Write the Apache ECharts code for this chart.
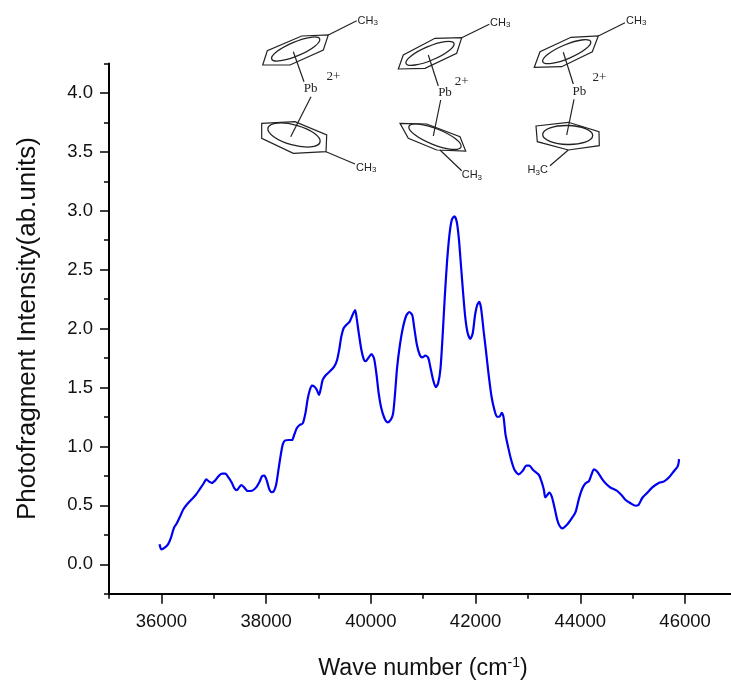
<!DOCTYPE html>
<html><head><meta charset="utf-8">
<style>html,body{margin:0;padding:0;background:#fff}#c{width:731px;height:682px}</style>
<script src="https://cdn.jsdelivr.net/npm/echarts@6/dist/echarts.min.js"></script>
</head><body><div id="c"></div>
<script>
const waveNumber = [35965,36000,36070,36130,36185,36240,36295,36355,36420,36495,36580,36655,36740,36815,36855,36905,36960,37025,37090,37155,37220,37280,37345,37395,37440,37485,37525,37580,37650,37730,37810,37875,37925,37965,38010,38055,38100,38140,38190,38240,38285,38320,38365,38430,38495,38535,38585,38640,38700,38750,38790,38830,38875,38925,38970,39010,39045,39080,39130,39210,39300,39355,39400,39435,39480,39530,39595,39650,39700,39725,39770,39820,39865,39900,39960,40010,40060,40105,40150,40200,40260,40320,40385,40425,40460,40500,40550,40610,40675,40735,40790,40830,40880,40935,40980,41040,41095,41135,41190,41240,41285,41330,41375,41410,41455,41500,41545,41595,41640,41680,41725,41765,41805,41850,41900,41945,41990,42030,42070,42105,42155,42200,42250,42305,42360,42410,42455,42500,42535,42570,42620,42680,42745,42825,42900,42970,43025,43100,43210,43260,43305,43330,43370,43405,43455,43510,43560,43605,43655,43740,43835,43910,43975,44040,44100,44165,44210,44260,44325,44420,44500,44580,44695,44785,44865,44960,45055,45110,45185,45280,45375,45505,45600,45695,45790,45855,45875,45885];
const intensity = [0.17,0.127,0.144,0.172,0.229,0.31,0.348,0.404,0.467,0.512,0.552,0.588,0.642,0.692,0.721,0.704,0.69,0.71,0.747,0.769,0.769,0.738,0.692,0.645,0.63,0.653,0.673,0.653,0.622,0.625,0.653,0.701,0.749,0.752,0.715,0.645,0.613,0.616,0.673,0.815,0.942,1.02,1.052,1.055,1.055,1.097,1.154,1.182,1.196,1.281,1.394,1.473,1.516,1.507,1.479,1.437,1.493,1.564,1.6,1.634,1.677,1.734,1.833,1.931,2.003,2.031,2.059,2.115,2.158,2.101,1.96,1.818,1.739,1.723,1.756,1.784,1.748,1.621,1.451,1.324,1.239,1.205,1.23,1.281,1.437,1.663,1.846,2.003,2.109,2.141,2.115,2.003,1.861,1.776,1.756,1.77,1.753,1.677,1.564,1.504,1.536,1.663,1.974,2.257,2.568,2.794,2.922,2.953,2.907,2.766,2.512,2.285,2.087,1.96,1.912,1.96,2.115,2.2,2.226,2.172,1.974,1.804,1.606,1.422,1.309,1.252,1.252,1.286,1.245,1.105,0.998,0.885,0.8,0.764,0.794,0.837,0.837,0.8,0.758,0.701,0.63,0.568,0.588,0.608,0.574,0.475,0.376,0.325,0.305,0.333,0.39,0.446,0.56,0.645,0.687,0.707,0.758,0.806,0.785,0.721,0.679,0.65,0.625,0.588,0.546,0.518,0.497,0.503,0.565,0.608,0.653,0.692,0.704,0.738,0.792,0.828,0.857,0.893];
const xMajorTicks = [36000,38000,40000,42000,44000,46000];
const xMinorTicks = [35000,37000,39000,41000,43000,45000];
const yMajorTicks = [0,0.5,1,1.5,2,2.5,3,3.5,4];
const yMinorTicks = [-0.25,0.25,0.75,1.25,1.75,2.25,2.75,3.25,3.75,4.25];
const xTitle = 'Wave number (cm';
const yTitle = 'Photofragment Intensity(ab.units)';

const pts = waveNumber.map((x,i)=>[x,intensity[i]]);
const sans = '"Liberation Sans", Arial, sans-serif';
const serif = '"Liberation Serif", serif';
const ink = '#111';

const g = [];
function poly(p, closed){
  g.push({type:closed?'polygon':'polyline',silent:true,shape:{points:p},style:{fill:closed?'none':null,stroke:'#222',lineWidth:1.2}});
}
function ell(cx,cy,rx,ry,rot){
  g.push({type:'ellipse',silent:true,x:cx,y:cy,rotation:rot,shape:{cx:0,cy:0,rx:rx,ry:ry},style:{fill:'none',stroke:'#222',lineWidth:1.3}});
}
function txt(t,x,y,o){
  g.push({type:'text',silent:true,x:x,y:y,style:Object.assign({text:t,fill:'#222',verticalAlign:'middle',align:'left'},o)});
}
const ch = {font:'11px '+sans,rich:{n:{fontSize:11,fontFamily:sans,fill:'#222'},s:{fontSize:8,fontFamily:sans,fill:'#222',padding:[5,0,0,0]}}};
const pb = {font:'13px '+serif,align:'center'};
const molecules = [
 {top:[[262.7,65],[267.3,50.7],[301.7,36],[328.3,35],[323.3,50],[290,65]],te:[295.7,49],tch:[[328.3,35],[356.7,20.7]],tt:[357.5,20.5],
  b1:[[293.3,51.7],[304,81.7]],pb:[310.7,88.5],q:[333.3,76.5],b2:[[311,96.7],[290.7,136.7]],
  low:[[261.7,123.3],[295,121.7],[326.7,135],[326,151.7],[293.3,153.3],[261.7,138.3]],le:[294,135,27,10,-0.27],lch:[[326,151.7],[355,164]],lt:[356,167.5],lab:'CH{s|3}'},
 {top:[[398.3,69],[403.3,55],[435,38.3],[461.7,37.7],[456.7,53.3],[425,68.3]],te:[430,53.3],tch:[[461.7,37.7],[489.3,24.3]],tt:[490,22.5],
  b1:[[428.3,55],[438.3,86]],pb:[445,92.7],q:[461.7,81.5],b2:[[440.7,100],[433.3,136]],
  low:[[400,123.3],[426.7,124],[460,136.7],[465.7,151],[436.7,150],[408.3,138.3]],le:[435,136.7,28,8,-0.38],lch:[[440,150],[461.7,170.7]],lt:[461.7,175],lab:'CH{s|3}'},
 {top:[[534.3,67.3],[540,51.7],[571,37.3],[598.3,36],[592.3,51.7],[561.7,66.7]],te:[566.7,51.7],tch:[[598.3,36],[625,22.7]],tt:[626,20.5],
  b1:[[563.3,52.3],[573.3,84]],pb:[579.3,91.7],q:[599.3,77.5],b2:[[574,99.3],[566.7,135]],
  low:[[536,126],[568.3,122.3],[599,131.7],[599.3,145.7],[568.3,150],[537.3,141.7]],le:[567.7,135,25,9.5,-0.02],lch:[[568.3,150],[550,165.7]],lt:[527.5,170],lab:'H{s|3}C'}
];
molecules.forEach(m=>{
  poly(m.top,true); ell(m.te[0],m.te[1],26,7,0.4); poly(m.tch); poly(m.b1); poly(m.b2);
  poly(m.low,true); ell(m.le[0],m.le[1],m.le[2],m.le[3],m.le[4]); poly(m.lch);
  txt('CH{s|3}',m.tt[0],m.tt[1],ch); txt(m.lab,m.lt[0],m.lt[1],ch);
  txt('Pb',m.pb[0],m.pb[1],pb); txt('2+',m.q[0],m.q[1],pb);
});

const axisLine = {show:true,onZero:false,lineStyle:{color:'#000',width:2}};
const hiddenLine = {show:false,onZero:false};
const chart = echarts.init(document.getElementById('c'),null,{renderer:'canvas'});
chart.setOption({
  animation:false,
  grid:{left:109,right:0,top:63.4,bottom:88.2,outerBoundsMode:'none',containLabel:false},
  xAxis:[
   {type:'value',min:35000,max:46877,position:'bottom',axisLine,splitLine:{show:false},
    axisTick:{show:true,customValues:xMajorTicks,length:10,lineStyle:{color:'#000',width:1.5}},
    axisLabel:{show:true,customValues:xMajorTicks,margin:19,color:ink,fontFamily:sans,fontSize:18.5,formatter:v=>String(v)},
    name:xTitle+'{s|-1}{a|)}',nameLocation:'middle',nameGap:62,
    nameTextStyle:{color:ink,fontFamily:sans,fontSize:23.3,padding:[0,0,0,6],rich:{a:{fontFamily:sans,fontSize:23.3,color:ink},s:{fontFamily:sans,fontSize:14,color:ink,padding:[0,0,12,0]}}}},
   {type:'value',min:35000,max:46877,position:'bottom',axisLine:hiddenLine,splitLine:{show:false},
    axisTick:{show:true,customValues:xMinorTicks,length:5,lineStyle:{color:'#000',width:1.5}},axisLabel:{show:false}}
  ],
  yAxis:[
   {type:'value',min:-0.25,max:4.25,position:'left',axisLine,splitLine:{show:false},
    axisTick:{show:true,customValues:yMajorTicks,length:9,lineStyle:{color:'#000',width:1.5}},
    axisLabel:{show:true,customValues:yMajorTicks,margin:16,color:ink,fontFamily:sans,fontSize:18.5,formatter:v=>v.toFixed(1)},
    name:yTitle,nameLocation:'middle',nameGap:68,
    nameTextStyle:{color:ink,fontFamily:sans,fontSize:26}},
   {type:'value',min:-0.25,max:4.25,position:'left',axisLine:hiddenLine,splitLine:{show:false},
    axisTick:{show:true,customValues:yMinorTicks,length:5,lineStyle:{color:'#000',width:1.5}},axisLabel:{show:false}}
  ],
  series:[{type:'line',data:pts,showSymbol:false,symbol:'none',smooth:0.25,lineStyle:{color:'#0000f0',width:2.2},silent:true}],
  graphic:g
});
</script></body></html>
